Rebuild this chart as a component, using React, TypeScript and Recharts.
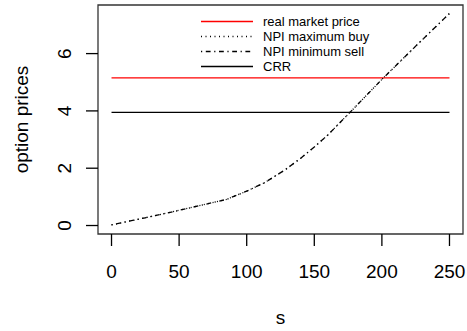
import { LineChart, Line, XAxis, YAxis, ReferenceArea, ReferenceLine, Legend } from "recharts"

// stock price grid
const sValues = [0, 25, 50, 85, 100, 113, 128, 140, 150, 160, 176, 200, 225, 250]
// NPI bounds (they coincide on the picture)
const maxBuy = [0.02, 0.27, 0.53, 0.91, 1.2, 1.49, 1.93, 2.35, 2.74, 3.16, 3.93, 5.1, 6.26, 7.4]
const minSell = [0.02, 0.27, 0.53, 0.91, 1.2, 1.49, 1.93, 2.35, 2.74, 3.16, 3.93, 5.1, 6.26, 7.4]
const marketPrice = 5.15
const crrPrice = 3.95

const xTicks = [0, 50, 100, 150, 200, 250]
const yTicks = [0, 2, 4, 6]
const legendNames = ["real market price", "NPI maximum buy", "NPI minimum sell", "CRR"]

const FONT = '"Liberation Sans", Arial, Helvetica, sans-serif'
const RED = "#ff0000"
const DOTDASH = "1.2 3.6 4.8 3.6"
const DOTTED = "1 3.5"
const LW = 1.3

const chartData = sValues.map((s, i) => ({ s, maxBuy: maxBuy[i], minSell: minSell[i] }))

// R style 4% axis extension
const xLo = -10
const xHi = 260
const yMin = 0
const yMax = 7.4
const yLo = yMin - (yMax - yMin) * 0.04
const yHi = yMax + (yMax - yMin) * 0.04

const XTick = (props: any) => {
  const { x, y, payload } = props
  return (
    <g>
      <line x1={x} y1={y} x2={x} y2={y + 12} stroke="#000" strokeWidth={LW} />
      <text x={x} y={y + 44} textAnchor="middle" fontSize={19} fontFamily={FONT} fill="#000">
        {payload.value}
      </text>
    </g>
  )
}

const YTick = (props: any) => {
  const { x, y, payload } = props
  return (
    <g>
      <line x1={x - 12} y1={y} x2={x} y2={y} stroke="#000" strokeWidth={LW} />
      <text
        x={x - 27}
        y={y}
        transform={`rotate(-90, ${x - 27}, ${y})`}
        textAnchor="middle"
        fontSize={19}
        fontFamily={FONT}
        fill="#000"
      >
        {payload.value}
      </text>
    </g>
  )
}

const legendStyles = [
  { stroke: RED, dash: undefined },
  { stroke: "#000", dash: DOTTED },
  { stroke: "#000", dash: DOTDASH },
  { stroke: "#000", dash: undefined },
]

const LegendBox = () => (
  <svg width={200} height={75} style={{ display: "block" }}>
    {legendNames.map((name, i) => {
      const y = 21.5 + i * 15
      return (
        <g key={name}>
          <line
            x1={6}
            y1={y}
            x2={58}
            y2={y}
            style={{ stroke: legendStyles[i].stroke }}
            strokeWidth={LW}
            strokeDasharray={legendStyles[i].dash}
          />
          <text x={68} y={y + 4.5} fontSize={13} fontFamily={FONT} fill="#000">
            {name}
          </text>
        </g>
      )
    })}
  </svg>
)

export default function App() {
  return (
    <div style={{ position: "absolute", left: 0, top: 0, background: "#fff" }}>
      <LineChart width={467} height={331} data={chartData} margin={{ top: 5, right: 4, bottom: 0, left: 0 }}>
        <XAxis
          dataKey="s"
          type="number"
          domain={[xLo, xHi]}
          ticks={xTicks}
          interval={0}
          height={97}
          axisLine={false}
          tickLine={false}
          tickSize={0}
          tickMargin={0}
          tick={<XTick />}
          allowDataOverflow
          label={(p: any) => {
            const vb = p.viewBox
            return (
              <text x={vb.x + vb.width / 2} y={vb.y + 90} textAnchor="middle" fontSize={19} fontFamily={FONT} fill="#000">
                s
              </text>
            )
          }}
        />
        <YAxis
          type="number"
          domain={[yLo, yHi]}
          ticks={yTicks}
          interval={0}
          width={98}
          axisLine={false}
          tickLine={false}
          tickSize={0}
          tickMargin={0}
          tick={<YTick />}
          allowDataOverflow
          label={(p: any) => {
            const vb = p.viewBox
            const cy = vb.y + vb.height / 2
            return (
              <text
                x={28}
                y={cy}
                transform={`rotate(-90, 28, ${cy})`}
                textAnchor="middle"
                fontSize={19}
                fontFamily={FONT}
                fill="#000"
              >
                option prices
              </text>
            )
          }}
        />
        <ReferenceArea x1={xLo} x2={xHi} y1={yLo} y2={yHi} stroke="#333" strokeWidth={LW} strokeOpacity={1} fill="none" fillOpacity={0} />
        <ReferenceLine segment={[{ x: 0, y: marketPrice }, { x: 250, y: marketPrice }]} stroke={RED} strokeWidth={LW} />
        <ReferenceLine segment={[{ x: 0, y: crrPrice }, { x: 250, y: crrPrice }]} stroke="#000" strokeWidth={LW} />
        <Line type="linear" dataKey="maxBuy" stroke="#000" strokeWidth={LW} strokeDasharray={DOTTED} dot={false} isAnimationActive={false} />
        <Line type="linear" dataKey="minSell" stroke="#000" strokeWidth={LW} strokeDasharray={DOTDASH} dot={false} isAnimationActive={false} />
        <Legend
          layout="vertical"
          align="center"
          verticalAlign="middle"
          content={() => <LegendBox />}
          wrapperStyle={{ left: 195, top: 0, width: 200 }}
        />
      </LineChart>
    </div>
  )
}
